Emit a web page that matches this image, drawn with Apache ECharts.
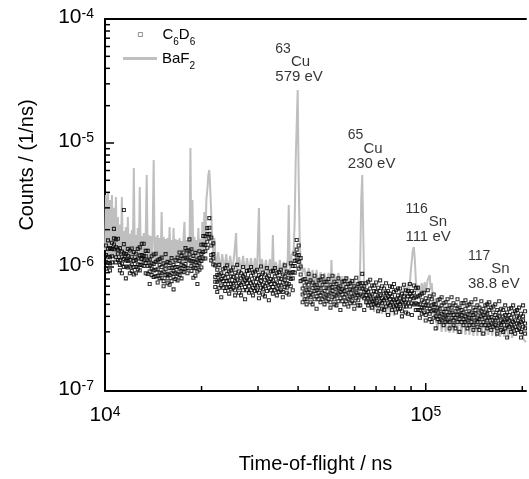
<!DOCTYPE html>
<html><head><meta charset="utf-8">
<script src="https://cdn.jsdelivr.net/npm/echarts@6/dist/echarts.min.js"></script>
<style>html,body{margin:0;padding:0;background:#fff}#c{width:529px;height:479px}</style>
</head><body><div id="c"></div>
<script>
// ---------------- data ----------------
const xTickExponents = [4, 5];
const yTickExponents = [-7, -6, -5, -4];
const seriesNames = ['C6D6', 'BaF2'];
const peakNuclides = ['63', '65', '116', '117'];
const peakElements = ['Cu', 'Cu', 'Sn', 'Sn'];
const peakEnergies = ['579 eV', '230 eV', '111 eV', '38.8 eV'];
const COUNT_UNIT = 1e-7; // counts below are given in units of 1e-7 /ns

// BaF2 detector: [time-of-flight (ns), counts (1e-7 /ns)]
const baf2 = [
[10000,13.7],[10071,38.1],[10143,11.8],[10216,40.3],[10289,12.3],[10363,34.7],[10437,11.8],[10512,38.1],[10587,12.0],[10663,30.0],[10739,11.6],[10816,36.7],[10893,11.8],[10971,25.3],[11050,11.6],[11129,22.0],[11209,11.4],[11289,36.7],[11370,11.6],[11451,19.5],[11533,11.4],[11616,21.0],[11699,11.2],[11782,25.3],[11866,11.4],[11952,18.5],[12037,11.2],[12123,19.9],[12210,11.4],[12298,62.9],[12386,11.2],[12474,18.1],[12563,11.0],[12653,20.6],[12744,11.2],[12835,44.2],[12927,11.0],[13020,17.8],[13113,11.2],[13207,18.8],[13302,11.0],[13396,17.5],[13492,55.2],[13589,11.0],[13686,18.1],[13784,11.2],[13883,17.8],[13982,11.0],[14082,19.2],[14183,72.9],[14285,11.0],[14387,17.5],[14490,10.8],[14594,18.1],[14698,11.0],[14803,17.1],[14909,10.8],[15016,27.8],[15123,10.8],[15232,17.5],[15341,10.6],[15450,16.8],[15561,10.8],[15672,17.1],[15784,10.6],[15898,21.0],[16012,10.8],[16126,16.5],[16241,10.6],[16358,20.6],[16475,10.8],[16593,16.8],[16712,10.6],[16831,16.5],[16951,10.8],[17073,17.1],[17195,10.6],[17318,16.2],[17442,10.8],[17567,16.8],[17693,23.1],[17819,10.8],[17947,16.5],[18075,11.0],[18204,17.1],[18335,11.2],[18466,91.1],[18598,11.4],[18731,34.7],[18865,11.2],[19000,17.5],[19136,11.0],[19273,16.5],[19411,10.8],[19550,20.6],[19690,11.0],[19831,16.8],[19973,11.2],[20116,23.1],[20260,12.0],[20405,27.8],[20551,14.5],[20698,34.7],[20846,41.8],[20995,55.2],[21145,60.6],[21296,41.8],[21449,26.3],[21603,16.5],[21757,12.5],[21913,17.1],
[22227,9.81],[22546,13.2],[22870,9.46],[23199,12.7],[23532,9.46],[23870,12.7],[24213,9.28],[24561,12.3],[24913,9.28],[25271,12.3],[25634,18.8],[25817,9.28],[26188,12.0],[26564,9.11],[26946,12.3],[27333,9.11],[27725,11.8],[28123,9.11],[28527,11.8],[28937,8.95],[29352,11.8],[29774,8.95],[30201,29.9],[30417,8.95],[30855,11.6],[31298,8.78],[31747,11.4],[32203,8.78],[32666,11.6],[33135,8.78],[33371,18.1],[33610,8.78],[34091,11.0],[34581,8.62],[35079,11.4],[35583,8.62],[36093,11.0],[36612,8.62],[37138,11.8],[37403,31.6],[37671,9.46],[38212,12.5],[38760,13.7],[39038,23.9],[39317,72.9],[39881,267.6],[40167,50.3],[40454,16.5],[40744,11.0],[41329,9.11],
[41922,9.81],[42524,7.16],[43135,9.81],[43754,7.16],[44383,9.46],[45020,7.03],[45667,9.46],[46322,6.90],[46987,9.11],[47662,6.77],[48346,8.95],[49040,6.65],[49745,8.95],[50459,6.65],[50820,11.4],[51183,6.52],[51918,8.78],[52663,6.52],[53420,8.95],[54187,6.40],[54965,8.46],[55754,6.29],[56554,8.31],[57366,6.17],[58190,8.15],[59025,6.06],[59873,8.15],[60732,5.94],[61604,7.86],[62045,5.94],[62489,11.4],[62936,34.7],[63386,55.2],[63840,19.9],[64296,6.52],[65219,4.94],
[66155,6.17],[67105,4.50],[68069,6.17],[69046,4.34],[70037,5.94],[71043,4.26],[72063,5.84],[73098,4.18],[74147,5.84],[75212,4.10],[76291,5.84],[77387,4.03],[78498,5.73],[79625,4.03],[80768,5.84],[81928,4.34],[83104,6.52],[84297,4.94],[85508,7.16],[86735,5.42],[87980,7.43],[88610,5.94],[89883,9.46],[91175,13.7],[91825,14.5],[92482,11.4],[93143,7.86],[93810,6.29],[95166,7.16],[95837,5.94],[97213,7.43],[97909,6.17],[99314,7.57],[100000,6.17],[101440,7.86],[102890,8.62],[103630,6.52],[104370,7.43],[105120,5.94],[105870,5.42],[106630,4.50],[107390,3.88],
[108930,3.10],[110490,4.67],[112080,2.99],[113690,4.58],[115320,2.99],[116980,4.50],[118660,2.94],[120360,4.42],[122090,2.94],[123840,4.42],[125620,2.88],[127420,4.34],[129250,2.88],[131110,4.34],[132990,2.83],[134900,4.26],[136830,2.83],[138800,4.26],[140790,2.78],[142810,4.18],[144860,2.78],[146940,4.18],[149050,2.78],[151190,4.10],[153360,2.83],[155560,5.42],[156670,2.83],[158930,4.10],[161210,2.78],[163520,4.03],[165870,2.73],[168250,4.03],[170660,2.73],[173110,3.88],[175600,2.73],[178120,3.74],[180680,2.68],[183270,3.74],[185900,2.68],[188570,4.10],[191280,4.67],[194030,4.10],[196810,3.10],[199640,2.83],[202500,2.58],[205400,2.48]
];

// C6D6 detector: [time-of-flight (ns), counts (1e-7 /ns) of the points read in that column ...]
const c6d6 = [
[10071,14.9,12.5,11.0,9.7],[10216,14.0,12.1,10.8,16.4],[10363,14.2,12.0,10.7,9.4],[10512,14.0,12.2,15.7,10.9],[10663,20.3,17.0,15.2,13.9],[10816,16.7,14.4,12.0,10.9],[10971,13.8,12.8,11.4,16.9],[11129,14.2,11.3,10.4,9.4],[11289,12.1,10.7,13.3,8.9],[11451,15.3,12.9,11.6,10.0,28.8],[11616,12.7,11.3,10.1,8.1],[11782,14.0,11.2,9.9,12.3],[11952,13.6,11.4,10.1,8.9],[12123,12.1,10.5,9.3,14.1],[12298,13.2,11.2,10.0,8.7],[12474,11.4,10.0,12.8,8.9],[12653,14.0,11.7,10.5,9.6],[12835,14.4,12.4,10.4,9.4],[13020,12.5,11.6,10.4,15.4],[13207,15.4,12.3,11.3,10.2],[13396,12.2,10.8,13.5,8.9],[13589,13.5,11.3,10.2,8.8],[13784,11.5,10.3,9.2,7.3],[13982,12.2,9.7,8.6,10.7],[14183,12.6,10.6,9.4,8.3],[14387,11.0,9.5,8.4,12.8],[14594,11.3,9.6,8.5,7.5],[14803,10.4,9.0,11.6,8.1],[15016,11.9,10.0,8.9,8.2],[15232,10.7,9.2,7.7,7.0],[15450,10.3,9.6,8.6,12.7],[15672,11.0,8.8,8.1,7.4],[15898,9.8,8.6,10.8,7.2],[16126,11.8,9.9,8.9,7.7],[16358,10.4,9.3,8.3,6.6],[16593,11.3,9.0,8.0,10.0],[16831,11.9,10.0,8.8,7.8],[17073,11.2,9.7,8.6,13.1],[17318,12.3,10.4,9.3,8.1],[17567,11.7,10.2,13.1,9.1],[17819,14.2,11.9,10.6,9.7],[18075,13.6,11.7,9.8,8.9],[18335,13.6,12.6,11.3,16.7],[18598,13.9,11.1,10.2,9.3],[18865,11.1,9.9,12.3,8.2],[19136,13.0,10.9,9.8,8.5],[19411,11.5,10.3,9.2,7.3],[19690,13.4,10.7,9.5,11.8],[19973,15.1,12.7,11.2,9.9],[20260,15.2,13.2,11.7,17.8],[20551,17.7,15.0,13.4,11.7],[20846,18.4,16.0,20.6,14.3],[21145,24.8,20.7,18.5,17.0],[21449,17.3,14.9,12.5,11.3],[21757,12.7,11.7,10.5,15.5],
[22069,10.3,8.3,7.6,6.9],[22386,8.6,7.6,9.5,6.3],[22708,10.4,8.7,7.8,6.8],[23034,8.9,8.0,7.1,5.7],[23365,9.6,7.7,6.8,8.5],[23700,9.8,8.2,7.3,6.4],[24041,8.8,7.7,6.8,10.3],[24386,9.2,7.8,6.9,6.1],[24736,8.4,7.3,9.4,6.6],[25092,9.9,8.3,7.4,6.8],[25452,9.0,7.7,6.5,5.9],[25817,8.5,7.9,7.0,10.4],[26188,9.2,7.4,6.8,6.2],[26564,8.1,7.2,8.9,5.9],[26946,10.0,8.4,7.5,6.5],[27333,8.7,7.8,6.9,5.5],[27725,9.3,7.4,6.5,8.1],[28123,9.4,7.9,7.0,6.2],[28527,8.5,7.4,6.5,10.0],[28937,9.0,7.6,6.8,5.9],[29352,8.2,7.1,9.2,6.4],[29774,9.5,8.0,7.1,6.5],[30201,8.6,7.4,6.2,5.6],[30635,8.3,7.7,6.8,10.1],[31075,9.0,7.2,6.6,6.0],[31521,7.9,7.0,8.7,5.8],[31974,9.8,8.2,7.4,6.4],[32433,8.5,7.6,6.8,5.4],[32899,9.2,7.3,6.5,8.0],[33371,9.3,7.8,6.9,6.1],[33850,8.4,7.3,6.5,9.8],[34336,8.9,7.5,6.7,5.9],[34830,8.1,7.1,9.1,6.3],[35330,9.5,8.0,7.1,6.5],[35837,8.7,7.5,6.3,5.7],[36352,8.4,7.8,6.9,10.3],[36874,9.2,7.4,6.8,6.2],[37403,8.2,7.3,9.0,6.0],[37940,10.7,8.9,8.0,7.0],[38485,10.2,9.1,8.1,6.5],[39038,12.8,10.2,9.0,11.2],[39598,16.5,13.8,12.4,11.3],[40167,14.9,12.5,11.0,9.7],[40744,10.1,8.7,7.7,11.8],
[41329,7.9,6.7,6.0,5.2],[41922,7.1,6.2,8.0,5.5],[42524,7.6,6.5,5.5,5.0],[43135,7.2,6.6,5.9,8.8],[43754,7.8,6.2,5.7,5.2],[44383,6.8,6.0,7.5,5.0],[45020,8.5,7.1,6.4,5.5],[45667,7.2,6.5,5.8,4.6],[46322,7.8,6.2,5.5,6.8],[46987,7.9,6.7,5.9,5.2],[47662,7.2,6.2,5.5,8.4],[48346,7.6,6.4,5.7,5.0],[49040,6.8,5.9,7.6,5.3],[49745,8.0,6.7,6.0,5.5],[50459,7.2,6.2,5.2,4.7],[51183,6.9,6.4,5.7,8.5],[51918,7.6,6.0,5.5,5.0],[52663,6.6,5.9,7.3,4.9],[53420,8.1,6.8,6.1,5.3],[54187,7.0,6.3,5.6,4.5],[54965,7.6,6.0,5.3,6.6],[55754,7.7,6.4,5.7,5.0],[56554,6.9,6.0,5.3,8.1],[57366,7.3,6.2,5.5,4.8],[58190,6.6,5.7,7.4,5.1],[59025,7.7,6.5,5.8,5.3],[59873,7.0,6.0,5.1,4.6],[60732,6.7,6.2,5.6,8.2],[61604,7.3,5.9,5.4,4.9],[62489,6.7,6.0,7.4,4.9],[63386,8.8,7.4,6.7,5.8],
[64296,7.0,6.3,5.6,4.5],[65219,7.4,5.9,5.2,6.5],[66155,7.6,6.3,5.6,4.9],[67105,6.7,5.8,5.2,7.9],[68069,7.1,6.0,5.3,4.7],[69046,6.4,5.5,7.1,5.0],[70037,7.5,6.3,5.6,5.1],[71043,6.8,5.8,4.9,4.4],[72063,6.4,5.9,5.3,7.8],[73098,7.0,5.6,5.1,4.6],[74147,6.1,5.4,6.7,4.5],[75212,7.4,6.2,5.6,4.8],[76291,6.4,5.8,5.1,4.1],[77387,7.0,5.5,4.9,6.1],[78498,6.9,5.8,5.2,4.5],[79625,6.3,5.4,4.8,7.3],[80768,6.5,5.5,4.9,4.3],[81928,5.9,5.2,6.7,4.6],
[83104,6.7,5.6,5.0,4.6],[84297,6.1,5.2,4.4,4.0],[85508,5.8,5.4,4.8,7.2],[86735,6.5,5.2,4.8,4.3],[87980,5.8,5.1,6.4,4.2],[89244,7.3,6.1,5.5,4.8],[90525,6.4,5.8,5.1,4.1],[91825,7.1,5.6,5.0,6.2],[93143,6.8,5.7,5.1,4.5],[94480,5.8,5.0,4.5,6.8],[95837,5.9,5.0,4.5,3.9],[97213,5.4,4.7,6.1,4.2],[98608,6.2,5.2,4.7,4.3],[100000,5.6,4.9,4.1,3.7],[101440,5.3,4.9,4.4,6.5],[102890,5.8,4.6,4.2,3.8],[104370,4.9,4.4,5.5,3.6],[105870,6.0,5.0,4.5,3.9],
[107390,5.0,4.4,4.0,3.2],[108930,5.4,4.3,3.8,4.7],[110490,5.5,4.6,4.0,3.6],[112080,4.9,4.2,3.7,5.7],[113690,5.1,4.35,3.9,3.4],[115320,4.6,4.0,5.2,3.6],[116980,5.5,4.6,4.1,3.7],[118660,4.9,4.3,3.6,3.2],[120360,4.7,4.3,3.9,5.7],[122090,5.1,4.1,3.7,3.4],[123840,4.4,3.9,4.9,3.2],[125620,5.5,4.6,4.1,3.6],[127420,4.7,4.2,3.8,3.0],[129250,5.1,4.1,3.6,4.5],[131110,5.1,4.3,3.8,3.4],[132990,4.6,4.0,3.6,5.4],[134900,4.9,4.15,3.7,3.2],[136830,4.4,3.9,5.0,3.4],[138800,5.2,4.3,3.9,3.6],[140790,4.7,4.1,3.4,3.1],[142810,4.5,4.2,3.7,5.5],[144860,4.9,3.9,3.6,3.3],[146940,4.3,3.8,4.7,3.1],[149050,5.3,4.4,4.0,3.4],[151190,4.6,4.1,3.6,2.9],[153360,4.9,3.9,3.4,4.3],[155560,5.0,4.2,3.7,3.2],[157800,4.5,3.9,3.4,5.2],[160060,4.7,3.95,3.5,3.1],[162360,4.3,3.7,4.8,3.3],[164690,5.0,4.1,3.7,3.4],[167060,4.5,3.9,3.2,2.9],[169450,4.3,4.0,3.5,5.3],[171890,4.6,3.7,3.4,3.1],[174360,4.0,3.6,4.5,3.0],[176860,4.9,4.1,3.7,3.2],[179400,4.3,3.8,3.4,2.7],[181970,4.6,3.7,3.3,4.1],[184590,4.65,3.9,3.45,3.0],[187240,4.2,3.6,3.2,4.9],[189930,4.4,3.7,3.3,2.9],[192650,4.0,3.5,4.5,3.1],[195420,4.7,3.9,3.5,3.2],[198220,4.2,3.6,3.0,2.7],[201070,4.0,3.7,3.3,4.9],[203950,4.4,3.5,3.2,2.9]
];

// ---------------- chart ----------------
const FONT = '"Liberation Sans", Arial, sans-serif';
const X_MIN = 1e4, X_MAX = 205400, Y_MIN = 1e-7, Y_MAX = 1e-4;

const baf2Data = baf2.map(p => [p[0], p[1] * COUNT_UNIT]);
const c6d6Data = [];
c6d6.forEach(row => row.slice(1).forEach(c => c6d6Data.push([row[0], c * COUNT_UNIT])));

const isDecade = v => Math.abs(Math.log10(v) - Math.round(Math.log10(v))) < 1e-6;
const powLabel = (exps) => v => {
  if (!isDecade(v)) return '';
  const e = Math.round(Math.log10(v));
  return exps.indexOf(e) >= 0 ? '{b|10}{s|' + e + '}' : '';
};
const labelRich = {
  b: {fontSize: 21, lineHeight: 24, fontFamily: FONT, color: '#000', verticalAlign: 'top'},
  s: {fontSize: 14, lineHeight: 14, fontFamily: FONT, color: '#000', verticalAlign: 'top'}
};

// ticks
const minorMult = [2,3,4,5,6,7,8,9];
const xMajor = xTickExponents.map(e => Math.pow(10, e));
const yMajor = yTickExponents.map(e => Math.pow(10, e));
const xMinor = [], yMinor = [];
xTickExponents.forEach(e => minorMult.forEach(m => { const v = m * Math.pow(10, e); if (v < X_MAX) xMinor.push(v); }));
yTickExponents.slice(0, -1).forEach(e => minorMult.forEach(m => yMinor.push(m * Math.pow(10, e))));

function tickSeries(values, dir, len) {
  return {
    type: 'custom', silent: true, clip: false, z: 20,
    data: values.map(v => dir === 'y' ? [X_MIN, v] : [v, Y_MIN]),
    renderItem: (params, api) => {
      const p = api.coord([api.value(0), api.value(1)]);
      const shape = dir === 'y'
        ? {x1: p[0], y1: p[1], x2: p[0] + len, y2: p[1]}
        : {x1: p[0], y1: p[1], x2: p[0], y2: p[1] - len};
      return {type: 'line', shape, style: {stroke: '#000', lineWidth: 1.5}};
    }
  };
}

// peak annotations (label anchors = top-left corner of each text block)
const annotationAnchors = [[34080, 6.29e-5], [57370, 1.26e-5], [86735, 3.23e-6], [135870, 1.34e-6]];
const annotationData = peakNuclides.map((n, i) => ({
  value: annotationAnchors[i],
  label: {formatter: '{sup|' + n + '}\n{el' + n.length + '|' + peakElements[i] + '}\n{en|' + peakEnergies[i] + '}'}
}));

const subRich = {
  pad: {width: 15, fontSize: 15, lineHeight: 15},
  n: {fontSize: 15, lineHeight: 15, fontFamily: FONT, color: '#000', verticalAlign: 'top'},
  sub: {fontSize: 10, lineHeight: 10, fontFamily: FONT, color: '#000', verticalAlign: 'top', padding: [10, 0, 0, 0]}
};

const chart = echarts.init(document.getElementById('c'), null, {renderer: 'canvas'});
chart.setOption({
  animation: false,
  backgroundColor: '#fff',
  grid: {left: 105, top: 19, width: 424, height: 372, containLabel: false},
  legend: [
    {data: [{name: seriesNames[0], icon: 'rect', itemStyle: {color: 'rgba(255,255,255,0)', borderColor: '#555', borderWidth: 0.8}}],
     left: 138, top: 27, padding: 0, itemWidth: 4, itemHeight: 4,
     formatter: () => '{pad|}{n|C}{sub|6}{n|D}{sub|6}', textStyle: {rich: subRich}, selectedMode: false},
    {data: [{name: seriesNames[1], icon: 'rect'}], left: 123, top: 51, padding: 0, itemWidth: 34, itemHeight: 3,
     formatter: () => '{n|BaF}{sub|2}', textStyle: {rich: subRich}, selectedMode: false}
  ],
  xAxis: [
    {type: 'log', logBase: 10, min: X_MIN, max: X_MAX, position: 'bottom',
     axisLine: {show: true, onZero: false, lineStyle: {color: '#000', width: 2}},
     axisTick: {show: false}, splitLine: {show: false}, minorTick: {show: false},
     axisLabel: {margin: 14, formatter: powLabel(xTickExponents), rich: labelRich, showMinLabel: true, showMaxLabel: true, hideOverlap: false},
     name: 'Time-of-flight / ns', nameLocation: 'middle', nameGap: 63,
     nameTextStyle: {fontSize: 20, color: '#000', fontFamily: FONT}},
    {type: 'log', logBase: 10, min: X_MIN, max: X_MAX, position: 'top',
     axisLine: {show: true, onZero: false, lineStyle: {color: '#000', width: 2}},
     axisTick: {show: false}, axisLabel: {show: false}, splitLine: {show: false}}
  ],
  yAxis: {type: 'log', logBase: 10, min: Y_MIN, max: Y_MAX,
    axisLine: {show: true, onZero: false, lineStyle: {color: '#000', width: 2}},
    axisTick: {show: false}, splitLine: {show: false},
    axisLabel: {margin: 11, formatter: powLabel(yTickExponents), rich: labelRich},
    name: 'Counts / (1/ns)', nameLocation: 'middle', nameGap: 68, nameRotate: 90,
    nameTextStyle: {fontSize: 20, color: '#000', fontFamily: FONT, padding: [0, 0, 0, 80]}},
  series: [
    {name: seriesNames[1], type: 'line', data: baf2Data, showSymbol: false, symbol: 'none',
     lineStyle: {color: '#bfbfbf', width: 2}, itemStyle: {color: '#bfbfbf'}, z: 2, clip: true, sampling: null},
    {name: seriesNames[0], type: 'scatter', data: c6d6Data, symbol: 'rect', symbolSize: 3,
     itemStyle: {color: 'rgba(255,255,255,0)', borderColor: '#000', borderWidth: 1.1}, z: 3, clip: true},
    {name: 'peaks', type: 'scatter', data: annotationData, symbolSize: 1, silent: true, z: 5,
     itemStyle: {color: 'rgba(0,0,0,0)'},
     label: {show: true, position: [0, 0], align: 'left', verticalAlign: 'top',
       rich: {
         sup: {fontSize: 14, lineHeight: 11, fontFamily: FONT, color: '#000'},
         el2: {fontSize: 15, lineHeight: 15, fontFamily: FONT, color: '#000', padding: [0, 0, 0, 15.6]},
         el3: {fontSize: 15, lineHeight: 15, fontFamily: FONT, color: '#000', padding: [0, 0, 0, 23.4]},
         en: {fontSize: 15, lineHeight: 15, fontFamily: FONT, color: '#000'}
       }}},
    tickSeries(yMajor, 'y', 9),
    tickSeries(yMinor, 'y', 5),
    tickSeries(xMajor, 'x', 8),
    tickSeries(xMinor, 'x', 5)
  ]
});
</script></body></html>
